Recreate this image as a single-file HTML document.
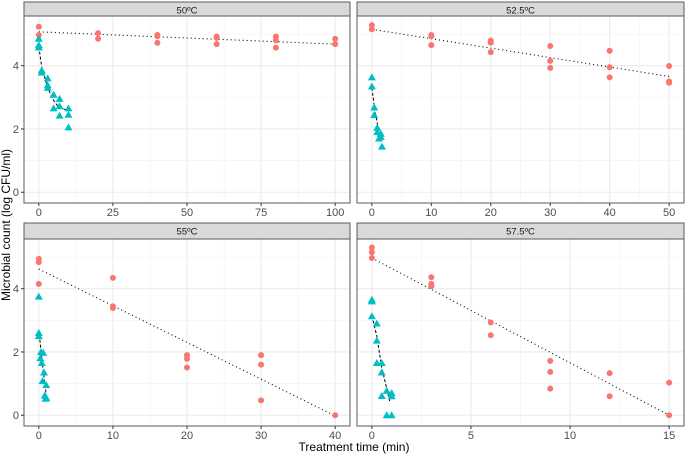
<!DOCTYPE html>
<html><head><meta charset="utf-8"><style>
html,body{margin:0;padding:0;background:#fff;}
svg{display:block;font-family:"Liberation Sans",Arial,sans-serif;}
</style></head><body>
<svg id="chart" width="685" height="455" viewBox="0 0 685 455">
<text x="10" y="225" transform="rotate(-90 10 225)" text-anchor="middle" font-size="12" fill="#000">Microbial count (log CFU/ml)</text>
<text x="354" y="451" text-anchor="middle" font-size="12" fill="#000">Treatment time (min)</text>
</svg>
<script>
// Panel titles and x ticks
const panelTitles = ["50ºC", "52.5ºC", "55ºC", "57.5ºC"];
const xMax = [100, 50, 40, 15];
const xTicks = [[0,25,50,75,100],[0,10,20,30,40,50],[0,10,20,30,40],[0,5,10,15]];
const yTicks = [0, 2, 4];
// Red series (circles)
const redX = [
 [0,0,20,20,40,40,40,60,60,60,80,80,80,100,100],
 [0,0,10,10,10,20,20,20,30,30,30,40,40,40,50,50,50],
 [0,0,0,10,10,10,20,20,20,30,30,30,40],
 [0,0,0,3,3,3,6,6,9,9,9,12,12,15,15]
];
const redY = [
 [5.23,4.97,5.03,4.85,4.97,4.93,4.72,4.92,4.88,4.68,4.92,4.8,4.57,4.85,4.68],
 [5.28,5.15,4.97,4.93,4.65,4.79,4.73,4.43,4.62,4.15,3.93,4.47,3.95,3.63,3.99,3.5,3.46],
 [4.94,4.84,4.15,4.34,3.44,3.39,1.9,1.78,1.51,1.9,1.6,0.47,0],
 [5.3,5.15,4.97,4.36,4.15,4.08,2.93,2.53,1.72,1.37,0.84,1.33,0.6,1.03,0]
];
const redFitX = [[0,100],[0,50],[0,40],[0,15]];
const redFitY = [[5.07,4.68],[5.15,3.66],[4.62,-0.02],[4.97,0]];
// Cyan series (triangles)
const cyanX = [
 [0,0,0,1,1,3,3,3,5,5,7,7,7,10,10,10],
 [0,0,0.4,0.4,0.9,0.9,1.5,1.5,1.2,1.7],
 [0,0,0,0.3,0.6,0.2,0.4,0.7,0.5,1.0,0.8,1.0,0.9],
 [0,0,0,0.25,0.25,0.25,0.5,0.5,0.5,0.75,1.0,1.0,0.75,1.0]
];
const cyanY = [
 [4.85,4.65,4.58,3.85,3.78,3.6,3.38,3.3,3.08,2.65,2.95,2.72,2.42,2.65,2.45,2.05],
 [3.63,3.34,2.68,2.44,2.04,1.9,1.85,1.75,1.7,1.44],
 [3.75,2.6,2.5,2.0,1.97,1.8,1.65,1.35,1.08,0.95,0.62,0.55,0.52],
 [3.65,3.6,3.13,2.9,2.36,1.65,1.65,1.35,0.61,0.77,0.7,0.6,0,0]
];
const cyanFitX = [[0,1,3,5,7,10],[0,0.5,1,1.5],[0,0.5,1],[0,0.25,0.5,0.9]];
const cyanFitY = [[4.6,3.95,3.3,2.9,2.65,2.6],[3.3,2.6,2.1,1.7],[2.7,1.6,0.65],[3.15,2.5,1.5,0.45]];

const NS = "http://www.w3.org/2000/svg";
const svg = document.getElementById("chart");
function mk(tag, attrs, parent){ const e=document.createElementNS(NS,tag); for(const k in attrs) e.setAttribute(k,attrs[k]); (parent||svg).appendChild(e); return e; }

const panels = [
 {x0:24, x1:350, y0:16, y1:203, sy:2, leftAxis:true},
 {x0:357, x1:684, y0:16, y1:203, sy:2, leftAxis:false},
 {x0:24, x1:350, y0:239, y1:426, sy:223, leftAxis:true},
 {x0:357, x1:684, y0:239, y1:426, sy:223, leftAxis:false}
];
const yLo = -0.34, yHi = 5.57;

panels.forEach((p, i) => {
  const g = mk("g", {});
  
  
  const m = xMax[i], lo = -0.05*m, hi = 1.05*m;
  const sx = v => p.x0 + (v - lo) / (hi - lo) * (p.x1 - p.x0);
  const sy = v => p.y1 - (v - yLo) / (yHi - yLo) * (p.y1 - p.y0);
  mk("rect", {x:p.x0, y:p.y0, width:p.x1-p.x0, height:p.y1-p.y0, fill:"#fff"}, g);
  // minor grid
  const step = xTicks[i][1] - xTicks[i][0];
  for (let k = 0; k < xTicks[i].length - 1; k++) {
    const v = xTicks[i][k] + step/2; const X = sx(v);
    mk("line", {x1:X, x2:X, y1:p.y0, y2:p.y1, stroke:"#F2F2F2", "stroke-width":0.6}, g);
  }
  [1,3,5].forEach(v => { const Y = sy(v); mk("line", {x1:p.x0, x2:p.x1, y1:Y, y2:Y, stroke:"#F2F2F2", "stroke-width":0.6}, g); });
  // major grid
  xTicks[i].forEach(v => { const X = sx(v); mk("line", {x1:X, x2:X, y1:p.y0, y2:p.y1, stroke:"#EBEBEB", "stroke-width":1.1}, g); });
  yTicks.forEach(v => { const Y = sy(v); mk("line", {x1:p.x0, x2:p.x1, y1:Y, y2:Y, stroke:"#EBEBEB", "stroke-width":1.1}, g); });
  // fit lines
  mk("polyline", {points: redFitX[i].map((x,k)=>sx(x)+","+sy(redFitY[i][k])).join(" "), fill:"none", stroke:"#000", "stroke-width":1.1, "stroke-dasharray":"1 3"}, g);
  mk("polyline", {points: cyanFitX[i].map((x,k)=>sx(x)+","+sy(cyanFitY[i][k])).join(" "), fill:"none", stroke:"#000", "stroke-width":1, "stroke-dasharray":"3 2"}, g);
  // red points
  redX[i].forEach((x,k) => {
    const c = mk("circle", {cx:sx(x), cy:sy(redY[i][k]), r:3, fill:"#F8766D"}, g);
    
    
  });
  // cyan triangles
  cyanX[i].forEach((x,k) => {
    const X = sx(x), Y = sy(cyanY[i][k]);
    const t = mk("polygon", {points:`${X},${Y-4} ${X-4},${Y+3} ${X+4},${Y+3}`, fill:"#00BFC4"}, g);
    
    
  });
  // border
  mk("rect", {x:p.x0, y:p.y0, width:p.x1-p.x0, height:p.y1-p.y0, fill:"none", stroke:"#5a5a5a", "stroke-width":1}, g);
  // strip
  mk("rect", {x:p.x0, y:p.sy, width:p.x1-p.x0, height:p.y0-p.sy, fill:"#D9D9D9", stroke:"#5a5a5a", "stroke-width":1}, g);
  const st = mk("text", {x:(p.x0+p.x1)/2, y:p.sy+11.5, "text-anchor":"middle", "font-size":"9.5", fill:"#1a1a1a"}, g);
  st.textContent = panelTitles[i];
  
  
  // x ticks
  xTicks[i].forEach(v => {
    const X = sx(v);
    mk("line", {x1:X, x2:X, y1:p.y1, y2:p.y1+3, stroke:"#333", "stroke-width":1}, g);
    const t = mk("text", {x:X, y:p.y1+13, "text-anchor":"middle", "font-size":"11", fill:"#4D4D4D"}, g);
    t.textContent = v;
    
    
  });
  if (p.leftAxis) {
    yTicks.forEach(v => {
      const Y = sy(v);
      mk("line", {x1:p.x0-3, x2:p.x0, y1:Y, y2:Y, stroke:"#333", "stroke-width":1}, g);
      const t = mk("text", {x:p.x0-5, y:Y+4, "text-anchor":"end", "font-size":"11", fill:"#4D4D4D"}, g);
      t.textContent = v;
      
      
    });
  }
});
</script>
</body></html>
